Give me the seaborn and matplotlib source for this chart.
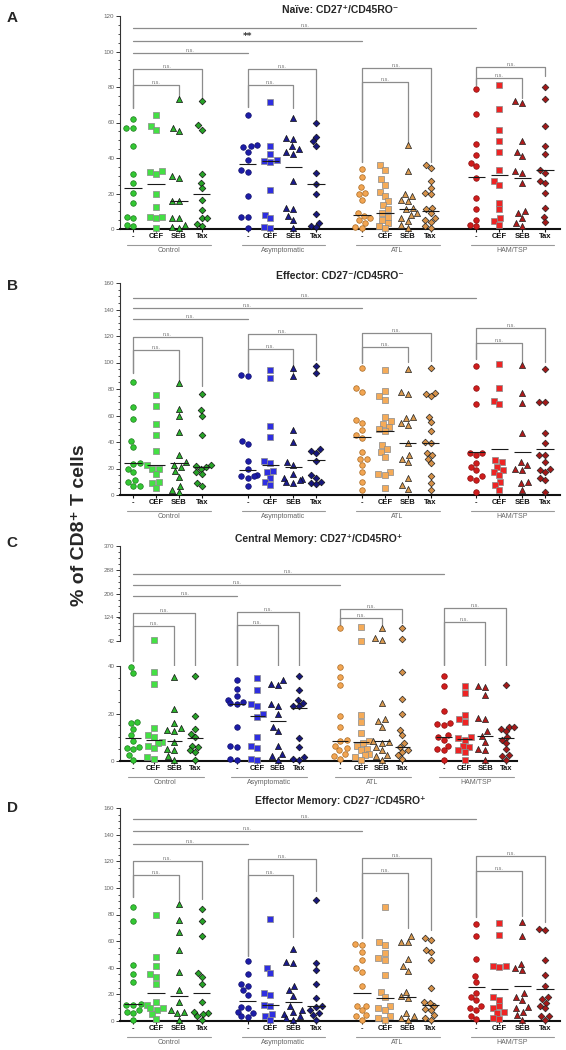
import warnings
import numpy as np
import pandas as pd
import matplotlib
matplotlib.use("Agg")
import matplotlib.pyplot as plt
from matplotlib.ticker import MultipleLocator, FixedLocator
import seaborn as sns

warnings.filterwarnings("ignore")

# ---- categories ----
groups = ["Control", "Asymptomatic", "ATL", "HAM/TSP"]
conds = ["-", "CEF", "SEB", "Tax"]

# ---- A: Naive ----
A_control = [[62, 57, 57, 47, 31, 26, 20.5, 14.5, 6.5, 6, 2, 1.5],
             [64, 58, 56, 32.5, 32, 31, 19.5, 12.5, 7, 7, 6, 0.5],
             [73, 57, 55, 30, 29, 16, 15.5, 6, 6, 2, 1, 0.5],
             [72, 58.5, 56, 31, 26, 23, 16.5, 10.5, 6, 6, 3, 1.5]]
A_asym = [[64, 47.5, 46.5, 46, 43.5, 39, 33, 32, 18.5, 7, 7, 0.5],
          [71.5, 46.5, 42.5, 39, 38.5, 38, 22, 8, 6, 1, 0.5],
          [62.5, 51.5, 50.5, 46.5, 45, 43.5, 42.5, 27, 12, 11, 7.5, 5, 0.5],
          [59.5, 52, 49.5, 47, 31.5, 25.5, 19.5, 8.5, 3.5, 1.5, 1]]
A_atl = [[34, 29.5, 23.5, 20.5, 19.5, 16.5, 9, 7.5, 6, 5, 3.5, 1, 0.5],
         [36, 33.5, 28, 25, 21, 18.5, 15.5, 13.5, 11, 9, 7, 5, 3.5, 1.5, 0.5],
         [47.5, 32.5, 19.5, 18.5, 16.5, 15.5, 12, 11, 9, 8, 6, 4.5, 2, 0.5],
         [36, 34.5, 27, 23, 20.5, 19.5, 12, 11, 9, 6, 5, 4, 1.5, 0.5]]
A_ham = [[79, 65, 48, 41.5, 37, 35.5, 28.5, 17.5, 11, 5, 2.5, 1.5],
         [81, 67.5, 55.5, 49.5, 43.5, 33.5, 27, 25, 14.5, 11, 6, 4.5, 2.5],
         [72, 71, 49.5, 43.5, 41, 32.5, 31.5, 26, 10, 9, 6, 3.5, 1.5],
         [80, 73, 58, 47, 42.5, 33, 31.5, 27, 26, 20.5, 12, 7, 4]]
A_lines = [23, 25.5, 15.5, 20, 36.5, 38.5, 35, 25.5, 8, 9, 11.5, 10, 29.5, 30.5, 28.5, 33]
A_brackets = [(81, 90, 68, 74, 74), (81, 90, 69, 68, 62),
              (83, 90.5, 38, 46.5, 38), (85, 91.5, 81, 74, 86)]
A_between = [99, 106, 113]
A_between_labels = ["n.s.", "**", "n.s."]

# ---- B: Effector ----
B_control = [[85.5, 66.5, 57, 41, 36.5, 24, 23.5, 20, 17, 11, 9.5, 7, 6.5],
             [75.5, 67, 53.5, 45.5, 33.5, 22.5, 20, 20, 16, 10, 9, 5],
             [84.5, 65, 59.5, 47.5, 30.5, 25, 23, 21, 18, 13.5, 7, 4, 2],
             [76, 64, 60, 45.5, 23, 22, 21, 20, 17, 16, 9, 7]]
B_asym = [[90, 90.5, 41, 38.5, 26, 20, 15, 14.5, 13, 14, 7],
          [94, 88, 52, 44, 26, 24, 18, 17, 13, 10, 7.5],
          [95.5, 90, 49, 40, 25, 23, 16, 13, 12, 11, 10, 9],
          [97, 92, 35, 33, 32, 26, 15, 13, 10, 9, 8]]
B_atl = [[95.5, 80.5, 78, 56.5, 54, 49, 45.5, 43, 32.5, 27, 27, 22.5, 17, 10, 4],
         [94, 78.5, 74.5, 72, 58.5, 56, 53.5, 51.5, 50, 48, 37.5, 34.5, 32.5, 28.5, 17.5, 16, 15, 5],
         [95, 78, 76, 59, 58, 54, 53, 39, 30, 27.5, 25, 12.5, 7.5, 4.5],
         [95.5, 77, 76.5, 74.5, 59, 55, 48.5, 40, 39, 32, 30, 27.5, 24, 14, 9, 4]]
B_ham = [[97, 80.5, 69, 32, 31.5, 30, 24, 21.5, 19, 14.5, 12.5, 11.5, 2],
         [99, 80.5, 71, 68.5, 26.5, 25, 21.5, 19, 17.5, 15, 10, 7.5, 4],
         [98, 77, 69.5, 47, 25, 22.5, 20, 19, 10, 9, 4],
         [95, 70.5, 70, 46.5, 39.5, 30, 30, 25, 20, 19, 17.5, 12.5, 11, 2.5]]
B_lines = [24, 22.5, 24, 21.5, 19, 22.5, 21.5, 26.5, 44, 48, 39, 39, 32.5, 34.5, 32.5, 34.5]
B_brackets = [(109.5, 119.5, 92, 87, 82), (110.5, 121.5, 93, 93, 102),
              (111.5, 122, 100, 100.5, 101.5), (115, 126, 103, 100.5, 100.5)]
B_between = [133, 141.5, 149]
B_between_labels = ["n.s.", "n.s.", "n.s."]

# ---- C: Central memory (broken axis: 0-40 and 42-370) ----
C_control = [[39.5, 37, 16.5, 16, 13.5, 11, 8.5, 6, 5.5, 5, 2.5, 0.5],
             [45, 37.5, 32.5, 14, 11, 10, 8, 7.5, 6.5, 5.5, 1.5, 1],
             [35.5, 22, 16, 14, 13, 12.5, 8, 5, 4.5, 2, 0.5],
             [36, 19, 13.5, 11.5, 10, 6.5, 6, 4.5, 4, 0.5]]
C_asym = [[34, 30.5, 27.5, 25.5, 24.5, 25, 24, 14.5, 6.5, 6, 0.7, 0.4],
          [35, 30, 24, 23, 20, 18.5, 10, 6.5, 5.5, 0.7, 0.4],
          [34, 32.5, 32, 24, 23, 20, 14.5, 12.5, 6.5, 3, 2, 0.5],
          [36, 30, 25.5, 24.5, 23, 23, 9.5, 6, 1.5, 1, 0.5]]
C_atl = [[86, 39.5, 35.5, 32, 19, 14.5, 9, 8.5, 6.5, 5.5, 4.5, 3, 2, 1],
         [89, 43, 19.5, 16.5, 12, 8.5, 7.5, 6.5, 5, 4.5, 3, 2.5, 1.5, 0.5],
         [86, 51, 45.5, 24.5, 17.5, 17, 14.5, 8.5, 8, 7.5, 6, 4.5, 2.5, 2, 0.5],
         [86, 48, 37.5, 26, 20, 13, 11, 7.5, 6, 4.5, 4, 2.5, 1]]
C_ham = [[36, 31.5, 21, 16, 15.5, 15, 11, 10, 9, 6.5, 5, 4.5, 0.3],
         [31.5, 28.5, 19.5, 17.5, 16.5, 10, 9.5, 9, 6.5, 6, 4.5, 4, 0.3],
         [31.5, 31, 28, 18, 17.5, 12.5, 10.5, 8, 5, 4.5, 0.5],
         [32, 14.5, 14.5, 13.5, 12.5, 10, 9, 7.5, 5, 2.5, 2, 0.5]]
C_lines = [9.7, 8.8, 8.4, 9.8, 24.2, 18.9, 16.8, 22.5, 8.5, 8.1, 8.5, 5.8, 9.9, 9.3, 10.5, 9.5]
C_brackets = [(94, 140, -26, -58, -58), (97, 143, -64, -64, -58),
              (122.5, 152.5, 91.5, 97, 103), (106.5, 155, -41, -87, -70)]
C_between = [197, 235, 273]
C_between_labels = ["n.s.", "n.s.", "n.s."]

# ---- D: Effector memory ----
D_control = [[86, 75, 42, 35, 29, 12.5, 12, 12, 8, 6.5, 6, 1],
             [79.5, 48, 41.5, 35.5, 33, 28, 14, 12, 10, 9.5, 8, 5, 1.5],
             [88, 76, 67, 53, 37, 23, 14, 8, 6.5, 6, 1],
             [84, 75, 64, 36, 33, 28, 14, 7, 6, 5, 3.5, 1]]
D_asym = [[45, 35, 28, 26.5, 23, 19.5, 10.5, 9.5, 7, 6, 3.5, 3],
          [76.5, 40, 36, 21, 19.5, 12, 11.5, 5.5, 4, 1],
          [54, 44.5, 43.5, 26.5, 23, 19, 11, 8, 6.5, 5.5, 3.5, 2, 1],
          [91, 43.5, 38, 28, 17, 11.5, 10.5, 8, 6, 4.5, 1]]
D_atl = [[57.5, 57, 52, 46, 39.5, 37, 26.5, 11.5, 11, 8, 4.5, 3.5, 1],
         [86, 59, 57, 51, 47, 46, 34.5, 22, 18, 11, 9.5, 8.5, 4, 2, 1],
         [63.5, 59.5, 59, 46.5, 41, 37.5, 22, 18.5, 17, 6, 4, 2, 1],
         [62, 61, 53.5, 51.5, 46, 24.5, 14.5, 13.5, 11, 9, 8, 4.5, 2, 1]]
D_ham = [[73, 63.5, 46.5, 34, 29.5, 21, 18, 15.5, 11, 9.5, 8, 3.5, 1.5],
         [73.5, 64.5, 41.5, 40.5, 41, 18, 16, 11, 9.5, 7, 6, 2, 1.5],
         [74, 64, 43, 39.5, 38, 21, 18, 16, 10.5, 9.5, 7, 4.5, 1],
         [68.5, 69, 46, 34.5, 26.5, 18, 16.5, 13.5, 11, 9.5, 4, 3.5, 1]]
D_lines = [12.5, 20.8, 18.8, 21.3, 15, 12, 14.5, 11.3, 21.3, 17, 17.8, 12, 25.3, 23.8, 26.3, 23.8]
D_brackets = [(109.5, 120, 93, 91, 92), (110, 121.5, 49, 63, 98),
              (111, 122.5, 62, 69.5, 68), (112.5, 124, 78, 79, 74)]
D_between = [133, 142.5, 151.5]
D_between_labels = ["n.s.", "n.s.", "n.s."]

# ---- styling ----
markers = ["o", "s", "^", "D"]
marker_sizes = [4.0, 4.0, 4.4, 3.4]
fill_colors = {
    "Control": ["#33c833", "#44e044", "#2db52d", "#27a327"],
    "Asymptomatic": ["#1c1ca8", "#2e2ee0", "#1b1b8f", "#17177c"],
    "ATL": ["#f2a552", "#f5ab58", "#d99a50", "#d69148"],
    "HAM/TSP": ["#d01c1c", "#ee2424", "#b21b1b", "#a31818"],
}
edge_colors = {
    "Control": ["#1e7a1e", "#8a8a8a", "#111111", "#111111"],
    "Asymptomatic": ["#12126a", "#8a8a8a", "#111111", "#111111"],
    "ATL": ["#a86a25", "#8a8a8a", "#222222", "#222222"],
    "HAM/TSP": ["#8a1010", "#8a8a8a", "#222222", "#222222"],
}
BR = "#8c8c8c"

sns.set_theme(style="ticks")
plt.rcParams["font.family"] = ["Liberation Sans", "DejaVu Sans"]

positions = [5 * g + c for g in range(4) for c in range(4)]


def make_df(panel):
    rows = []
    for g, name in enumerate(groups):
        for c, cond in enumerate(conds):
            for v in panel[g][c]:
                rows.append((name, cond, 5 * g + c, v))
    return pd.DataFrame(rows, columns=["group", "cond", "pos", "value"])


def draw_points(ax, df):
    for g, name in enumerate(groups):
        for c, cond in enumerate(conds):
            sub = df[(df["group"] == name) & (df["cond"] == cond)]
            if sub.empty:
                continue
            sns.swarmplot(data=sub, x="pos", y="value", native_scale=True, orient="x",
                          marker=markers[c], size=marker_sizes[c],
                          color=fill_colors[name][c], edgecolor=edge_colors[name][c],
                          linewidth=0.5, ax=ax, clip_on=False, zorder=3)
    ax.set_xlabel("")
    ax.set_ylabel("")


def draw_lines(ax, lines):
    p = np.array(positions, dtype=float)
    ax.hlines(lines, p - 0.38, p + 0.38, color="#1a1a1a", lw=0.8, zorder=4)


def draw_brackets(ax, brackets, between, between_labels):
    kw = dict(color=BR, lw=0.9, clip_on=False, zorder=2)
    for g, (y1, y2, e0, e1, e2) in enumerate(brackets):
        x0 = 5 * g
        ax.plot([x0, x0, x0 + 2, x0 + 2], [e0, y1, y1, e1], **kw)
        ax.plot([x0, x0, x0 + 3, x0 + 3], [e0, y2, y2, e2], **kw)
        ax.text(x0 + 1, y1, "n.s.", ha="center", va="bottom", fontsize=4, color="#777777")
        ax.text(x0 + 1.5, y2, "n.s.", ha="center", va="bottom", fontsize=4, color="#777777")
    for k, (y, lab) in enumerate(zip(between, between_labels)):
        x1 = 5 * (k + 1)
        ax.plot([0, x1], [y, y], **kw)
        if lab == "**":
            ax.text(x1 / 2, y, lab, ha="center", va="bottom", fontsize=6.5,
                    color="#333333", fontweight="bold", family="DejaVu Sans")
        else:
            ax.text(x1 / 2, y, lab, ha="center", va="bottom", fontsize=4, color="#777777")


def style_yaxis(ax, major, minor):
    ax.yaxis.set_major_locator(FixedLocator(major))
    ax.yaxis.set_minor_locator(MultipleLocator(minor))
    ax.tick_params(axis="y", which="major", length=3, width=0.7, color="#333333",
                   labelsize=4.5, labelcolor="#666666", pad=1)
    ax.tick_params(axis="y", which="minor", length=1.8, width=0.6, color="#333333")
    ax.spines["left"].set_linewidth(0.8)
    ax.spines["left"].set_color("#333333")
    ax.spines["top"].set_visible(False)
    ax.spines["right"].set_visible(False)


def style_xaxis(ax, xlim):
    ax.set_xlim(*xlim)
    ax.set_xticks(positions)
    ax.set_xticklabels(conds * 4)
    ax.tick_params(axis="x", length=2, width=0.8, color="#111111", pad=1,
                   labelsize=5.5, labelcolor="#111111")
    for lbl in ax.get_xticklabels():
        lbl.set_fontweight("bold")
    ax.spines["bottom"].set_linewidth(1.5)
    ax.spines["bottom"].set_color("#111111")
    h = ax.bbox.height
    for g, name in enumerate(groups):
        x0 = 5 * g
        ax.plot([x0 - 0.25, x0 + 3.4], [-16 / h, -16 / h], color="#999999", lw=0.8,
                transform=ax.get_xaxis_transform(), clip_on=False)
        ax.text(x0 + 1.55, -18 / h, name, ha="center", va="top", fontsize=5,
                color="#666666", transform=ax.get_xaxis_transform())


fig = plt.figure(figsize=(5.66, 10.5), dpi=100)
W, H = 566, 1050


def add_axes(left, top, right, bottom):
    return fig.add_axes([left / W, 1 - bottom / H, (right - left) / W, (bottom - top) / H])


wide_xlim = (-0.57, 18.65)
narrow_xlim = (-0.63, 18.53)

# Panel A
axA = add_axes(120, 16, 560, 229)
draw_points(axA, make_df([A_control, A_asym, A_atl, A_ham]))
draw_lines(axA, A_lines)
draw_brackets(axA, A_brackets, A_between, A_between_labels)
axA.set_ylim(0, 120)
style_yaxis(axA, [0, 20, 40, 60, 80, 100, 120], 5)
style_xaxis(axA, wide_xlim)
axA.set_title("Naïve: CD27⁺/CD45RO⁻", fontsize=7.5, fontweight="bold", pad=2)

# Panel B
axB = add_axes(120, 283, 560, 495)
draw_points(axB, make_df([B_control, B_asym, B_atl, B_ham]))
draw_lines(axB, B_lines)
draw_brackets(axB, B_brackets, B_between, B_between_labels)
axB.set_ylim(0, 160)
style_yaxis(axB, [0, 20, 40, 60, 80, 100, 120, 140, 160], 5)
style_xaxis(axB, wide_xlim)
axB.set_title("Effector: CD27⁻/CD45RO⁻", fontsize=7.5, fontweight="bold", pad=3)

# Panel C (broken axis)
axCu = add_axes(120, 546, 517, 641)
axCl = add_axes(120, 666, 517, 761)
dfC = make_df([C_control, C_asym, C_atl, C_ham])
draw_points(axCu, dfC[dfC["value"] > 40])
draw_points(axCl, dfC[dfC["value"] <= 40])
draw_lines(axCl, C_lines)
draw_brackets(axCu, C_brackets, C_between, C_between_labels)
axCu.set_ylim(42, 370)
axCl.set_ylim(0, 40)
style_yaxis(axCu, [42, 124, 206, 288, 370], 20.5)
style_yaxis(axCl, [0, 20, 40], 5)
axCu.set_xlim(*narrow_xlim)
axCu.spines["bottom"].set_visible(False)
axCu.tick_params(axis="x", bottom=False, labelbottom=False)
style_xaxis(axCl, narrow_xlim)
axCu.set_title("Central Memory: CD27⁺/CD45RO⁺", fontsize=7.5, fontweight="bold", pad=3)

# Panel D
axD = add_axes(120, 808, 560, 1021)
draw_points(axD, make_df([D_control, D_asym, D_atl, D_ham]))
draw_lines(axD, D_lines)
draw_brackets(axD, D_brackets, D_between, D_between_labels)
axD.set_ylim(0, 160)
style_yaxis(axD, [0, 20, 40, 60, 80, 100, 120, 140, 160], 5)
style_xaxis(axD, wide_xlim)
axD.set_title("Effector Memory: CD27⁻/CD45RO⁺", fontsize=7.5, fontweight="bold", pad=3)

# shared labels
fig.text(80 / W, 1 - 525 / H, "% of CD8⁺ T cells", rotation=90, fontsize=14,
         fontweight="bold", ha="center", va="center")
for letter, y in zip("ABCD", [18, 286, 543, 808]):
    fig.text(12 / W, 1 - y / H, letter, fontsize=11, fontweight="bold",
             ha="center", va="center")

fig.savefig("out.png", dpi=100)
